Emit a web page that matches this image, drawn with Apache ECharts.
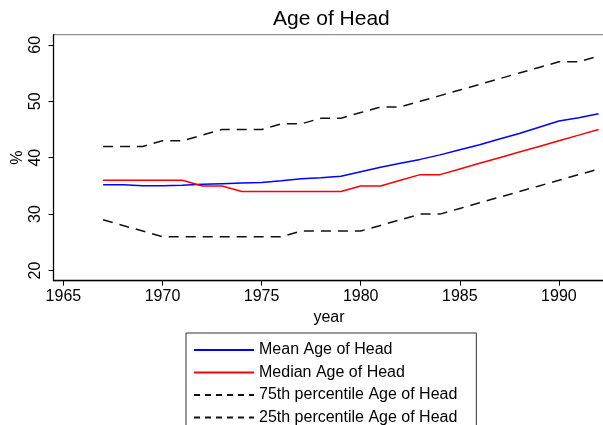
<!DOCTYPE html>
<html>
<head>
<meta charset="utf-8">
<script src="https://cdn.jsdelivr.net/npm/echarts@6/dist/echarts.min.js"></script>
<style>
  html, body { margin: 0; padding: 0; background: #fff; }
  #chart { width: 603px; height: 425px; }
</style>
</head>
<body>
<div id="chart"></div>
<script>
// values
const years = [1967, 1968, 1969, 1970, 1971, 1972, 1973, 1974, 1975, 1976, 1977, 1978, 1979,
  1980, 1981, 1982, 1983, 1984, 1985, 1986, 1987, 1988, 1989, 1990, 1991, 1992]
const meanAge = [35.2, 35.2, 35.05, 35.05, 35.1, 35.3, 35.4, 35.5, 35.6, 35.9, 36.25, 36.45, 36.7,
  37.5, 38.3, 39.0, 39.7, 40.5, 41.4, 42.3, 43.3, 44.3, 45.4, 46.5, 47.1, 47.8]
const medianAge = [36, 36, 36, 36, 36, 35, 35, 34, 34, 34, 34, 34, 34,
  35, 35, 36, 37, 37, 38, 39, 40, 41, 42, 43, 44, 45]
const p75Age = [42, 42, 42, 43, 43, 44, 45, 45, 45, 46, 46, 47, 47,
  48, 49, 49, 50, 51, 52, 53, 54, 55, 56, 57, 57, 58]
const p25Age = [29, 28, 27, 26, 26, 26, 26, 26, 26, 26, 27, 27, 27,
  27, 28, 29, 30, 30, 31, 32, 33, 34, 35, 36, 37, 38]
const xTicks = [1965, 1970, 1975, 1980, 1985, 1990]
const yTicks = [20, 30, 40, 50, 60]

const FONT = 'Liberation Sans'

function pairs(vals) {
  return years.map((y, i) => [y, vals[i]])
}

const chart = echarts.init(document.getElementById('chart'))

chart.setOption({
  backgroundColor: '#fff',
  animation: false,
  title: {
    text: 'Age of Head',
    left: 268,
    top: 4,
    textStyle: { fontFamily: FONT, fontSize: 21, fontWeight: 'normal', color: '#000' }
  },
  grid: {
    left: 53.5,
    top: 34.7,
    width: 551,
    height: 246,
    outerBoundsMode: 'none',
    containLabel: false,
    show: true,
    borderColor: '#777',
    borderWidth: 1
  },
  xAxis: {
    type: 'value',
    min: 1964.5,
    max: 1992.3,
    name: 'year',
    nameLocation: 'middle',
    nameGap: 29,
    nameTextStyle: { fontFamily: FONT, fontSize: 16, color: '#000' },
    axisLine: { lineStyle: { color: '#000', width: 1.3 } },
    axisTick: { length: 5, customValues: xTicks, lineStyle: { color: '#000' } },
    axisLabel: {
      customValues: xTicks,
      formatter: v => String(v),
      margin: 8, fontFamily: FONT, fontSize: 16, color: '#000'
    },
    splitLine: { show: false }
  },
  yAxis: {
    type: 'value',
    min: 18.2,
    max: 61.8,
    name: '%',
    nameLocation: 'middle',
    nameGap: 28,
    nameMoveOverlap: false,
    nameRotate: 90,
    nameTextStyle: { fontFamily: FONT, fontSize: 16, color: '#000' },
    axisLine: { show: true, lineStyle: { color: '#000', width: 1.3 } },
    axisTick: { show: true, length: 5, customValues: yTicks, lineStyle: { color: '#000' } },
    axisLabel: { customValues: yTicks, rotate: 90, margin: 10, fontFamily: FONT, fontSize: 16, color: '#000' },
    splitLine: { show: false }
  },
  legend: {
    orient: 'vertical',
    left: 186,
    top: 333,
    height: 130,
    itemWidth: 60,
    itemHeight: 10,
    itemGap: 6.5,
    padding: [9, 19, 7, 7],
    borderColor: '#333',
    borderWidth: 1,
    itemStyle: { color: 'transparent', borderColor: 'transparent', borderWidth: 0 },
    textStyle: { fontFamily: FONT, fontSize: 16, color: '#000' },
    data: [
      { name: 'Mean Age of Head' },
      { name: 'Median Age of Head' },
      { name: '75th percentile Age of Head', lineStyle: { type: [6, 5] } },
      { name: '25th percentile Age of Head', lineStyle: { type: [6, 5] } }
    ]
  },
  series: [
    {
      name: 'Mean Age of Head',
      type: 'line',
      symbol: 'none',
      data: pairs(meanAge),
      lineStyle: { color: '#0000ff', width: 1.5 },
      itemStyle: { color: '#0000ff' }
    },
    {
      name: 'Median Age of Head',
      type: 'line',
      symbol: 'none',
      data: pairs(medianAge),
      lineStyle: { color: '#ff0000', width: 1.5 },
      itemStyle: { color: '#ff0000' }
    },
    {
      name: '75th percentile Age of Head',
      type: 'line',
      symbol: 'none',
      data: pairs(p75Age),
      lineStyle: { color: '#111', width: 1.5, type: [10, 7] },
      itemStyle: { color: '#111' }
    },
    {
      name: '25th percentile Age of Head',
      type: 'line',
      symbol: 'none',
      data: pairs(p25Age),
      lineStyle: { color: '#111', width: 1.5, type: [10, 7] },
      itemStyle: { color: '#111' }
    }
  ]
})
</script>
</body>
</html>
